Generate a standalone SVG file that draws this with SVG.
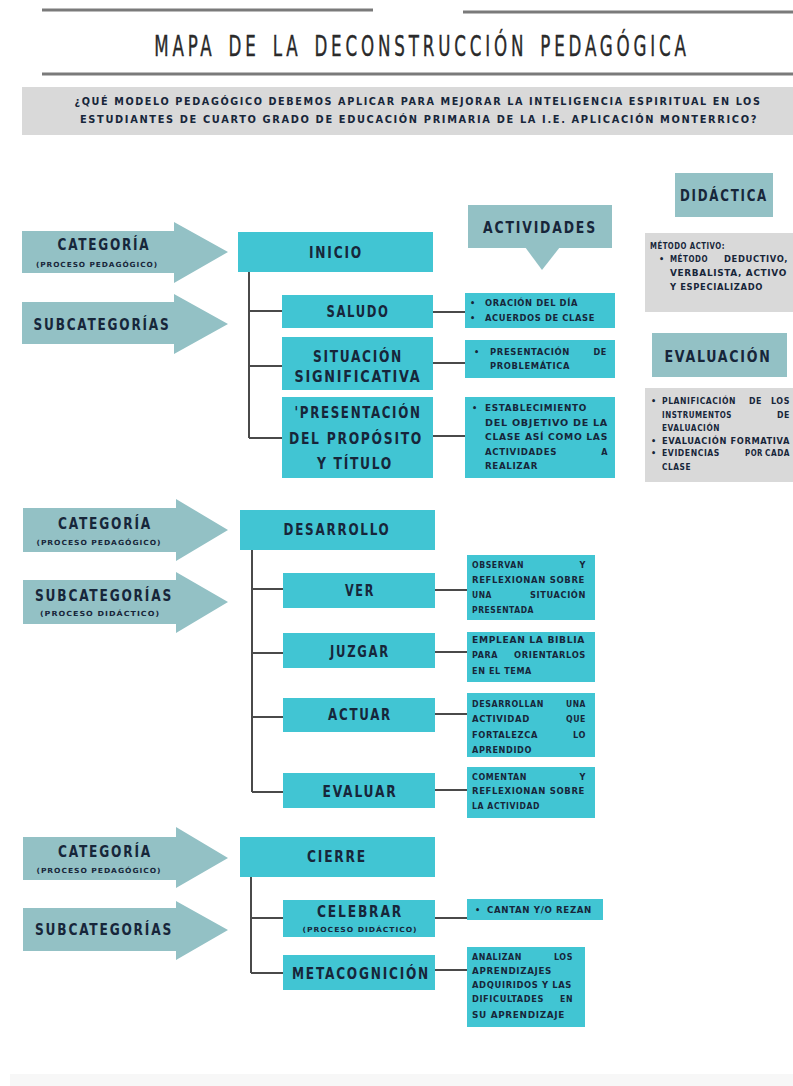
<svg xmlns="http://www.w3.org/2000/svg" width="793" height="1086" viewBox="0 0 793 1086">
<defs>
<style>
.cy{fill:#41c5d3}
.tl{fill:#93c1c5}
.gr{fill:#d9d9d9}
.ln{stroke:#4a4a4a;stroke-width:2;fill:none}
.rule{stroke:#7a7a7a;stroke-width:3}
.t{font-family:"DejaVu Sans Condensed","DejaVu Sans",sans-serif;font-weight:bold;fill:#17263a}
.L{font-size:16px;letter-spacing:2px;text-anchor:middle}
.M{font-size:15px;letter-spacing:2px;text-anchor:middle}
.S{font-size:9px;letter-spacing:0.6px}
.E{font-size:9px;letter-spacing:0.6px;text-anchor:end}
.X{font-size:7px;letter-spacing:0.8px;text-anchor:middle}
.Q{font-size:10px;letter-spacing:1.5px;text-anchor:middle}
</style>
</defs>
<rect width="793" height="1086" fill="#ffffff"/>
<rect x="10" y="1074" width="783" height="12" fill="#f7f7f7"/>

<g id="header">
<line class="rule" x1="42" y1="10" x2="373" y2="10"/>
<line class="rule" x1="463" y1="12" x2="793" y2="12"/>
<text transform="translate(422,56) scale(0.64,1)" x="0" y="0" font-family="'DejaVu Sans Condensed','DejaVu Sans',sans-serif" font-size="29" word-spacing="6" letter-spacing="6" fill="#2a2a2a" stroke="#2a2a2a" stroke-width="0.4" text-anchor="middle">MAPA DE LA DECONSTRUCCIÓN PEDAGÓGICA</text>
<line class="rule" x1="42" y1="74" x2="793" y2="74"/>
</g>

<g id="question">
<rect class="gr" x="22" y="87" width="771" height="48"/>
<text class="t Q" x="418" y="105" textLength="687" lengthAdjust="spacingAndGlyphs">¿QUÉ MODELO PEDAGÓGICO DEBEMOS APLICAR PARA MEJORAR LA INTELIGENCIA ESPIRITUAL EN LOS</text>
<text class="t Q" x="419" y="123" textLength="678" lengthAdjust="spacingAndGlyphs">ESTUDIANTES DE CUARTO GRADO DE EDUCACIÓN PRIMARIA DE LA I.E. APLICACIÓN MONTERRICO?</text>
</g>

<g id="connectors">
<path class="ln" d="M249,272 V438 M249,311 H283 M249,366 H283 M249,438 H283"/>
<path class="ln" d="M433,312 H465 M433,363 H465 M433,436 H465"/>
<path class="ln" d="M252,550 V792 M252,589 H283 M252,653 H283 M252,717 H283 M252,792 H283"/>
<path class="ln" d="M435,590 H467 M435,652 H467 M435,714 H467 M435,790 H467"/>
<path class="ln" d="M251,877 V973 M251,918 H283 M251,973 H283"/>
<path class="ln" d="M435,918 H467 M435,970 H467"/>
</g>

<g id="arrow-categoria-1">
<path class="tl" d="M22,231 H174 V222 L228,252 L174,283 V273 H22 Z"/>
<text class="t M" x="104" y="250" textLength="93" lengthAdjust="spacingAndGlyphs">CATEGORÍA</text>
<text class="t X" x="97" y="267" textLength="122" lengthAdjust="spacingAndGlyphs">(PROCESO PEDAGÓGICO)</text>
</g>
<g id="arrow-subcategorias-1">
<path class="tl" d="M22,302 H174 V294 L228,324 L174,354 V344 H22 Z"/>
<text class="t M" x="102" y="330" textLength="137" lengthAdjust="spacingAndGlyphs">SUBCATEGORÍAS</text>
</g>

<g id="inicio">
<rect class="cy" x="238" y="232" width="195" height="40"/>
<text class="t M" x="336" y="258" textLength="54" lengthAdjust="spacingAndGlyphs">INICIO</text>
</g>
<g id="saludo">
<rect class="cy" x="282" y="295" width="151" height="33"/>
<text class="t L" x="358" y="317" textLength="63" lengthAdjust="spacingAndGlyphs">SALUDO</text>
</g>
<g id="situacion">
<rect class="cy" x="282" y="337" width="151" height="53"/>
<text class="t L" x="358" y="362" textLength="90" lengthAdjust="spacingAndGlyphs">SITUACIÓN</text>
<text class="t L" x="358" y="382" textLength="127" lengthAdjust="spacingAndGlyphs">SIGNIFICATIVA</text>
</g>
<g id="presentacion">
<rect class="cy" x="282" y="397" width="151" height="81"/>
<text class="t L" x="358" y="418" textLength="127" lengthAdjust="spacingAndGlyphs">'PRESENTACIÓN</text>
<text class="t L" x="356" y="444" textLength="134" lengthAdjust="spacingAndGlyphs">DEL PROPÓSITO</text>
<text class="t L" x="355" y="469" textLength="76" lengthAdjust="spacingAndGlyphs">Y TÍTULO</text>
</g>

<g id="actividades">
<rect class="tl" x="468" y="205" width="144" height="43"/>
<polygon class="tl" points="525,247 560,247 542,270"/>
<text class="t M" x="540" y="233" textLength="114" lengthAdjust="spacingAndGlyphs">ACTIVIDADES</text>
</g>

<g id="act-saludo">
<rect class="cy" x="465" y="293" width="150" height="35"/>
<text class="t S" x="470" y="306">•</text>
<text class="t S" x="485" y="306" textLength="93" lengthAdjust="spacingAndGlyphs">ORACIÓN DEL DÍA</text>
<text class="t S" x="470" y="321">•</text>
<text class="t S" x="485" y="321" textLength="110" lengthAdjust="spacingAndGlyphs">ACUERDOS DE CLASE</text>
</g>
<g id="act-situacion">
<rect class="cy" x="465" y="340" width="150" height="38"/>
<text class="t S" x="474" y="355">•</text>
<text class="t S" x="490" y="355" textLength="80" lengthAdjust="spacingAndGlyphs">PRESENTACIÓN</text>
<text class="t E" x="607" y="355">DE</text>
<text class="t S" x="490" y="369" textLength="80" lengthAdjust="spacingAndGlyphs">PROBLEMÁTICA</text>
</g>
<g id="act-presentacion">
<rect class="cy" x="465" y="397" width="150" height="81"/>
<text class="t S" x="472" y="411">•</text>
<text class="t S" x="485" y="411" textLength="102" lengthAdjust="spacingAndGlyphs">ESTABLECIMIENTO</text>
<text class="t S" x="485" y="426" textLength="123" lengthAdjust="spacingAndGlyphs">DEL OBJETIVO DE LA</text>
<text class="t S" x="485" y="440" textLength="123" lengthAdjust="spacingAndGlyphs">CLASE ASÍ COMO LAS</text>
<text class="t S" x="485" y="455" textLength="72" lengthAdjust="spacingAndGlyphs">ACTIVIDADES</text>
<text class="t E" x="608" y="455">A</text>
<text class="t S" x="485" y="469" textLength="53" lengthAdjust="spacingAndGlyphs">REALIZAR</text>
</g>

<g id="didactica">
<rect class="tl" x="675" y="173" width="98" height="44"/>
<text class="t M" x="724" y="201" textLength="88" lengthAdjust="spacingAndGlyphs">DIDÁCTICA</text>
</g>
<g id="didactica-detalle">
<rect class="gr" x="645" y="233" width="148" height="79"/>
<text class="t S" x="650" y="249" textLength="75" lengthAdjust="spacingAndGlyphs">MÉTODO ACTIVO:</text>
<text class="t S" x="659" y="262">•</text>
<text class="t S" x="670" y="262" textLength="38" lengthAdjust="spacingAndGlyphs">MÉTODO</text>
<text class="t E" x="788" y="262" textLength="64" lengthAdjust="spacingAndGlyphs">DEDUCTIVO,</text>
<text class="t S" x="670" y="276" textLength="117" lengthAdjust="spacingAndGlyphs">VERBALISTA, ACTIVO</text>
<text class="t S" x="670" y="290" textLength="93" lengthAdjust="spacingAndGlyphs">Y ESPECIALIZADO</text>
</g>

<g id="evaluacion">
<rect class="tl" x="652" y="333" width="135" height="44"/>
<text class="t L" x="718" y="362" textLength="107" lengthAdjust="spacingAndGlyphs">EVALUACIÓN</text>
</g>
<g id="evaluacion-detalle">
<rect class="gr" x="645" y="388" width="148" height="94"/>
<text class="t S" x="651" y="404">•</text>
<text class="t S" x="662" y="404" textLength="74" lengthAdjust="spacingAndGlyphs">PLANIFICACIÓN</text>
<text class="t S" x="749" y="404" textLength="13" lengthAdjust="spacingAndGlyphs">DE</text>
<text class="t E" x="790" y="404" textLength="19" lengthAdjust="spacingAndGlyphs">LOS</text>
<text class="t S" x="662" y="418" textLength="70" lengthAdjust="spacingAndGlyphs">INSTRUMENTOS</text>
<text class="t E" x="790" y="418" textLength="13" lengthAdjust="spacingAndGlyphs">DE</text>
<text class="t S" x="662" y="431" textLength="58" lengthAdjust="spacingAndGlyphs">EVALUACIÓN</text>
<text class="t S" x="651" y="444">•</text>
<text class="t S" x="662" y="444" textLength="128" lengthAdjust="spacingAndGlyphs">EVALUACIÓN FORMATIVA</text>
<text class="t S" x="651" y="456">•</text>
<text class="t S" x="662" y="456" textLength="58" lengthAdjust="spacingAndGlyphs">EVIDENCIAS</text>
<text class="t S" x="745" y="456" textLength="18" lengthAdjust="spacingAndGlyphs">POR</text>
<text class="t E" x="790" y="456" textLength="25" lengthAdjust="spacingAndGlyphs">CADA</text>
<text class="t S" x="662" y="470" textLength="29" lengthAdjust="spacingAndGlyphs">CLASE</text>
</g>

<g id="arrow-categoria-2">
<path class="tl" d="M23,508 H176 V499 L228,530 L176,561 V552 H23 Z"/>
<text class="t M" x="105" y="529" textLength="94" lengthAdjust="spacingAndGlyphs">CATEGORÍA</text>
<text class="t X" x="99" y="545" textLength="125" lengthAdjust="spacingAndGlyphs">(PROCESO PEDAGÓGICO)</text>
</g>
<g id="arrow-subcategorias-2">
<path class="tl" d="M23,580 H176 V572 L228,602 L176,633 V624 H23 Z"/>
<text class="t M" x="104" y="601" textLength="138" lengthAdjust="spacingAndGlyphs">SUBCATEGORÍAS</text>
<text class="t X" x="100" y="616" textLength="120" lengthAdjust="spacingAndGlyphs">(PROCESO DIDÁCTICO)</text>
</g>

<g id="desarrollo">
<rect class="cy" x="240" y="510" width="195" height="40"/>
<text class="t M" x="337" y="535" textLength="107" lengthAdjust="spacingAndGlyphs">DESARROLLO</text>
</g>
<g id="ver">
<rect class="cy" x="283" y="573" width="152" height="35"/>
<text class="t M" x="360" y="596" textLength="30" lengthAdjust="spacingAndGlyphs">VER</text>
</g>
<g id="juzgar">
<rect class="cy" x="283" y="633" width="152" height="35"/>
<text class="t M" x="360" y="657" textLength="60" lengthAdjust="spacingAndGlyphs">JUZGAR</text>
</g>
<g id="actuar">
<rect class="cy" x="283" y="698" width="152" height="34"/>
<text class="t M" x="360" y="720" textLength="64" lengthAdjust="spacingAndGlyphs">ACTUAR</text>
</g>
<g id="evaluar">
<rect class="cy" x="283" y="773" width="152" height="35"/>
<text class="t M" x="360" y="797" textLength="75" lengthAdjust="spacingAndGlyphs">EVALUAR</text>
</g>

<g id="act-ver">
<rect class="cy" x="467" y="555" width="128" height="65"/>
<text class="t S" x="472" y="568" textLength="52" lengthAdjust="spacingAndGlyphs">OBSERVAN</text>
<text class="t E" x="586" y="568">Y</text>
<text class="t S" x="472" y="583" textLength="113" lengthAdjust="spacingAndGlyphs">REFLEXIONAN SOBRE</text>
<text class="t S" x="472" y="598" textLength="20" lengthAdjust="spacingAndGlyphs">UNA</text>
<text class="t E" x="586" y="598" textLength="56" lengthAdjust="spacingAndGlyphs">SITUACIÓN</text>
<text class="t S" x="472" y="613" textLength="62" lengthAdjust="spacingAndGlyphs">PRESENTADA</text>
</g>
<g id="act-juzgar">
<rect class="cy" x="467" y="632" width="128" height="50"/>
<text class="t S" x="472" y="643" textLength="113" lengthAdjust="spacingAndGlyphs">EMPLEAN LA BIBLIA</text>
<text class="t S" x="472" y="658" textLength="26" lengthAdjust="spacingAndGlyphs">PARA</text>
<text class="t E" x="586" y="658" textLength="72" lengthAdjust="spacingAndGlyphs">ORIENTARLOS</text>
<text class="t S" x="472" y="674" textLength="60" lengthAdjust="spacingAndGlyphs">EN EL TEMA</text>
</g>
<g id="act-actuar">
<rect class="cy" x="467" y="693" width="128" height="64"/>
<text class="t S" x="472" y="707" textLength="72" lengthAdjust="spacingAndGlyphs">DESARROLLAN</text>
<text class="t E" x="586" y="707" textLength="20" lengthAdjust="spacingAndGlyphs">UNA</text>
<text class="t S" x="472" y="722" textLength="58" lengthAdjust="spacingAndGlyphs">ACTIVIDAD</text>
<text class="t E" x="586" y="722" textLength="20" lengthAdjust="spacingAndGlyphs">QUE</text>
<text class="t S" x="472" y="738" textLength="66" lengthAdjust="spacingAndGlyphs">FORTALEZCA</text>
<text class="t E" x="586" y="738" textLength="13" lengthAdjust="spacingAndGlyphs">LO</text>
<text class="t S" x="472" y="753" textLength="60" lengthAdjust="spacingAndGlyphs">APRENDIDO</text>
</g>
<g id="act-evaluar">
<rect class="cy" x="467" y="767" width="128" height="51"/>
<text class="t S" x="472" y="780" textLength="55" lengthAdjust="spacingAndGlyphs">COMENTAN</text>
<text class="t E" x="586" y="780">Y</text>
<text class="t S" x="472" y="794" textLength="113" lengthAdjust="spacingAndGlyphs">REFLEXIONAN SOBRE</text>
<text class="t S" x="472" y="809" textLength="68" lengthAdjust="spacingAndGlyphs">LA ACTIVIDAD</text>
</g>

<g id="arrow-categoria-3">
<path class="tl" d="M23,837 H176 V827 L228,858 L176,888 V880 H23 Z"/>
<text class="t M" x="105" y="857" textLength="94" lengthAdjust="spacingAndGlyphs">CATEGORÍA</text>
<text class="t X" x="99" y="873" textLength="125" lengthAdjust="spacingAndGlyphs">(PROCESO PEDAGÓGICO)</text>
</g>
<g id="arrow-subcategorias-3">
<path class="tl" d="M23,908 H176 V901 L228,930 L176,960 V951 H23 Z"/>
<text class="t M" x="104" y="935" textLength="138" lengthAdjust="spacingAndGlyphs">SUBCATEGORÍAS</text>
</g>

<g id="cierre">
<rect class="cy" x="240" y="837" width="195" height="40"/>
<text class="t M" x="337" y="862" textLength="60" lengthAdjust="spacingAndGlyphs">CIERRE</text>
</g>
<g id="celebrar">
<rect class="cy" x="283" y="900" width="152" height="37"/>
<text class="t M" x="360" y="917" textLength="86" lengthAdjust="spacingAndGlyphs">CELEBRAR</text>
<text class="t X" x="360" y="932" textLength="115" lengthAdjust="spacingAndGlyphs">(PROCESO DIDÁCTICO)</text>
</g>
<g id="metacognicion">
<rect class="cy" x="283" y="955" width="152" height="35"/>
<text class="t M" x="361" y="979" textLength="138" lengthAdjust="spacingAndGlyphs">METACOGNICIÓN</text>
</g>

<g id="act-celebrar">
<rect class="cy" x="467" y="899" width="136" height="21"/>
<text class="t S" x="475" y="913">•</text>
<text class="t S" x="487" y="913" textLength="105" lengthAdjust="spacingAndGlyphs">CANTAN Y/O REZAN</text>
</g>
<g id="act-metacognicion">
<rect class="cy" x="467" y="947" width="118" height="80"/>
<text class="t S" x="472" y="960" textLength="50" lengthAdjust="spacingAndGlyphs">ANALIZAN</text>
<text class="t E" x="573" y="960" textLength="19" lengthAdjust="spacingAndGlyphs">LOS</text>
<text class="t S" x="472" y="974" textLength="80" lengthAdjust="spacingAndGlyphs">APRENDIZAJES</text>
<text class="t S" x="472" y="988" textLength="100" lengthAdjust="spacingAndGlyphs">ADQUIRIDOS Y LAS</text>
<text class="t S" x="472" y="1002" textLength="72" lengthAdjust="spacingAndGlyphs">DIFICULTADES</text>
<text class="t E" x="573" y="1002" textLength="13" lengthAdjust="spacingAndGlyphs">EN</text>
<text class="t S" x="472" y="1018" textLength="93" lengthAdjust="spacingAndGlyphs">SU APRENDIZAJE</text>
</g>
</svg>
